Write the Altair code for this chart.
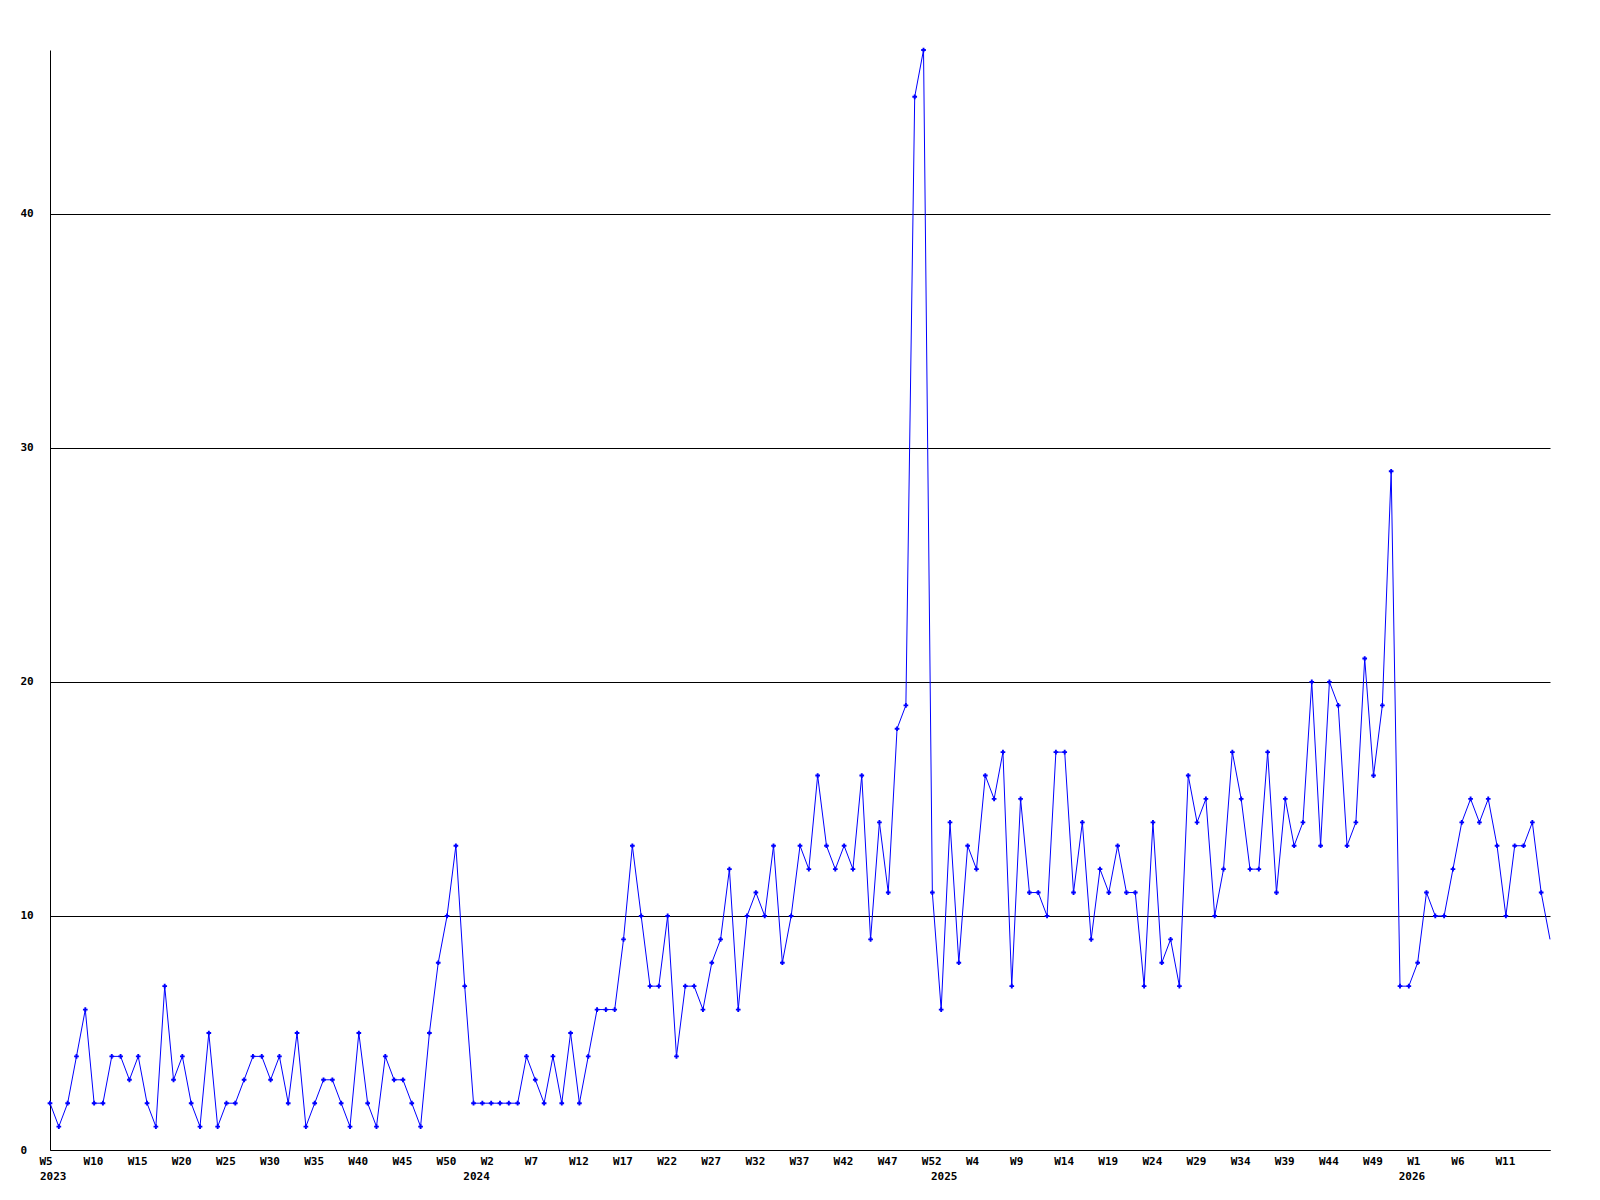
import altair as alt
import pandas as pd

values = [
    2, 1, 2, 4, 6, 2, 2, 4, 4, 3, 4, 2, 1, 7, 3, 4, 2, 1, 5, 1,
    2, 2, 3, 4, 4, 3, 4, 2, 5, 1, 2, 3, 3, 2, 1, 5, 2, 1, 4, 3,
    3, 2, 1, 5, 8, 10, 13, 7, 2, 2, 2, 2, 2, 2, 4, 3, 2, 4, 2, 5,
    2, 4, 6, 6, 6, 9, 13, 10, 7, 7, 10, 4, 7, 7, 6, 8, 9, 12, 6, 10,
    11, 10, 13, 8, 10, 13, 12, 16, 13, 12, 13, 12, 16, 9, 14, 11, 18, 19, 45, 47,
    11, 6, 14, 8, 13, 12, 16, 15, 17, 7, 15, 11, 11, 10, 17, 17, 11, 14, 9, 12,
    11, 13, 11, 11, 7, 14, 8, 9, 7, 16, 14, 15, 10, 12, 17, 15, 12, 12, 17, 11,
    15, 13, 14, 20, 13, 20, 19, 13, 14, 21, 16, 19, 29, 7, 7, 8, 11, 10, 10, 12,
    14, 15, 14, 15, 13, 10, 13, 13, 14, 11, 9,
]
week_numbers = (list(range(5, 54)) + list(range(1, 54)) + list(range(1, 54))
                + list(range(1, 17)))
years = [2023] * 49 + [2024] * 53 + [2025] * 53 + [2026] * 16
week_labels = [f"W{w}" for w in week_numbers]
y_ticks = [0, 10, 20, 30, 40]

n = len(values)
df = pd.DataFrame({
    "idx": list(range(1, n + 1)),
    "value": values,
    "week": week_labels,
    "year": [str(y) for y in years],
})

x_ticks = list(range(1, n - 4, 5))
label_arr = "[" + ",".join(f"'{w}'" for w in week_labels) + "]"

FONT = "DejaVu Sans Mono"
BLUE = "#0000ff"

x_scale = alt.Scale(domain=[1, n], nice=False, zero=False)
y_scale = alt.Scale(domain=[0, 47], nice=False, zero=True)

x_axis = alt.Axis(
    values=x_ticks, labelExpr=label_arr + "[datum.value - 1]",
    title=None, grid=False, ticks=False, domainColor="black", domainWidth=1,
    labelFont=FONT, labelFontWeight="bold", labelFontSize=11, labelColor="black",
    labelAlign="left", labelOffset=-11, labelPadding=5, labelOverlap=False,
    labelFlush=False, labelBound=False,
)
y_axis = alt.Axis(
    values=y_ticks, title=None, grid=True, gridColor="black", gridOpacity=1,
    gridWidth=1, ticks=False, domainColor="black", domainWidth=1,
    labelFont=FONT, labelFontWeight="bold", labelFontSize=11, labelColor="black",
    labelAlign="left", labelPadding=30, labelBaseline="middle",
)

base = alt.Chart(df)

line = base.mark_line(color=BLUE, strokeWidth=1).encode(
    x=alt.X("idx:Q", scale=x_scale, axis=x_axis),
    y=alt.Y("value:Q", scale=y_scale, axis=y_axis),
)
points = base.transform_filter(alt.datum.idx < n).mark_point(
    shape="cross", filled=True, size=22, color=BLUE, opacity=1
).encode(
    x=alt.X("idx:Q", scale=x_scale),
    y=alt.Y("value:Q", scale=y_scale),
)
year_text = base.transform_filter(
    (alt.datum.week == "W1") & (alt.datum.idx > 1)
).mark_text(
    font=FONT, fontWeight="bold", fontSize=11, color="black",
    align="left", baseline="middle", dx=-19,
).encode(
    x=alt.X("idx:Q", scale=x_scale),
    y=alt.value(1127),
    text="year:N",
)
first_year = base.transform_filter(alt.datum.idx == 1).mark_text(
    font=FONT, fontWeight="bold", fontSize=11, color="black",
    align="left", baseline="middle", dx=-10,
).encode(
    x=alt.X("idx:Q", scale=x_scale),
    y=alt.value(1127),
    text="year:N",
)

chart = alt.layer(line, points, year_text, first_year).properties(
    width=1500, height=1100,
    autosize=alt.AutoSizeParams(type="none"),
    padding={"left": 42, "top": 42, "right": 42, "bottom": 60},
    background="white",
).configure_view(strokeWidth=0)

chart.save("out.html", embed_options={"renderer": "svg", "actions": False})
